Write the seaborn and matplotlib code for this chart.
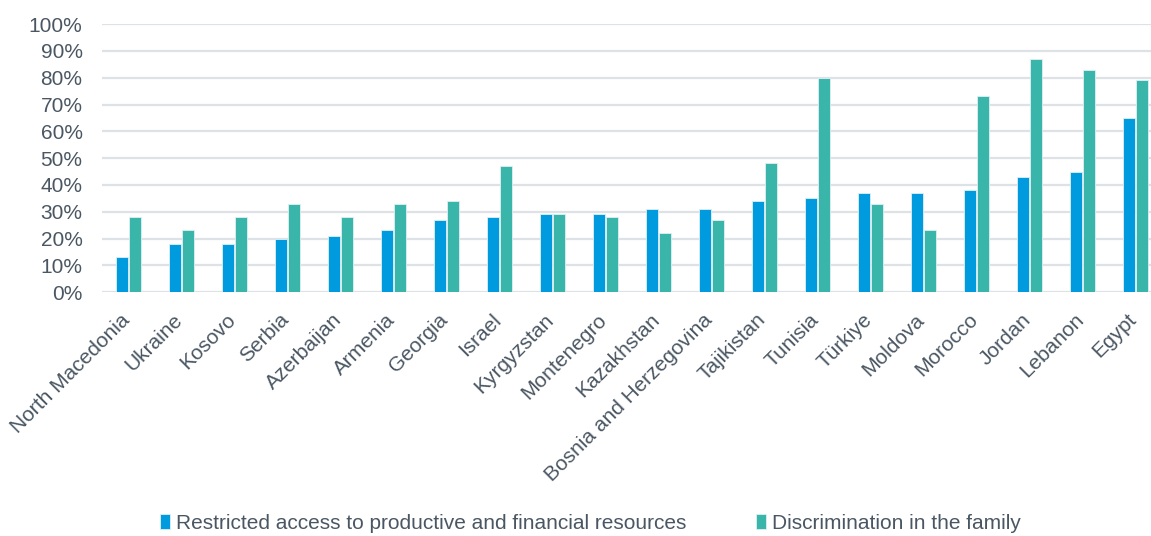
import matplotlib
matplotlib.use("Agg")
import matplotlib.pyplot as plt
import matplotlib.transforms as mtransforms
import seaborn as sns
import pandas as pd
from matplotlib.ticker import PercentFormatter

countries = ["North Macedonia", "Ukraine", "Kosovo", "Serbia", "Azerbaijan", "Armenia",
             "Georgia", "Israel", "Kyrgyzstan", "Montenegro", "Kazakhstan",
             "Bosnia and Herzegovina", "Tajikistan", "Tunisia", "Türkiye", "Moldova",
             "Morocco", "Jordan", "Lebanon", "Egypt"]
restricted = [13, 18, 18, 20, 21, 23, 27, 28, 29, 29, 31, 31, 34, 35, 37, 37, 38, 43, 45, 65]
family = [28, 23, 28, 33, 28, 33, 34, 47, 29, 28, 22, 27, 48, 80, 33, 23, 73, 87, 83, 79]
series_names = ["Restricted access to productive and financial resources",
                "Discrimination in the family"]
colors = ["#009ADE", "#3AB5A9"]

df = pd.DataFrame({
    "country": countries * 2,
    "value": restricted + family,
    "series": [series_names[0]] * len(countries) + [series_names[1]] * len(countries),
})

sns.set_theme(style="white")
plt.rcParams["font.family"] = ["Liberation Sans", "DejaVu Sans"]
text_color = "#4A5763"
fs = 15

fig = plt.figure(figsize=(11.51, 5.36), dpi=100)
# the plot area runs slightly past the right edge of the canvas
ax = fig.add_axes([0.0886, 0.455, 0.921, 0.5])

sns.barplot(data=df, x="country", y="value", hue="series", palette=colors,
            saturation=1, width=0.5, gap=0.08, ax=ax, edgecolor="#dff0f5",
            linewidth=0.6, legend=True)

ax.set_ylim(0, 100)
ax.set_yticks(range(0, 101, 10))
ax.yaxis.set_major_formatter(PercentFormatter(decimals=0))
ax.grid(axis="y", color="#dde2e6", linewidth=1.6)
ax.set_axisbelow(True)
for s in ax.spines.values():
    s.set_visible(False)
ax.set_xlabel("")
ax.set_ylabel("")
ax.set_xlim(-0.5, len(countries) - 0.5)
ax.tick_params(axis="both", length=0, labelsize=fs, colors=text_color)
ax.tick_params(axis="y", pad=14)
ax.tick_params(axis="x", pad=13)

# nudge the rotated category labels a little to the left of their ticks
shift = mtransforms.ScaledTranslation(-8.5 / 100, 0, fig.dpi_scale_trans)
for lbl in ax.get_xticklabels():
    lbl.set_rotation(45)
    lbl.set_ha("right")
    lbl.set_rotation_mode("anchor")
    lbl.set_transform(lbl.get_transform() + shift)

handles, labels = ax.get_legend_handles_labels()
ax.get_legend().remove()
fig.legend(handles, labels, loc="center", bbox_to_anchor=(0.513, 0.024), ncol=2,
           frameon=False, fontsize=fs, labelcolor=text_color, handlelength=0.5,
           handleheight=0.7, handletextpad=0.3, columnspacing=3.3)

fig.savefig("out.png", dpi=100)
